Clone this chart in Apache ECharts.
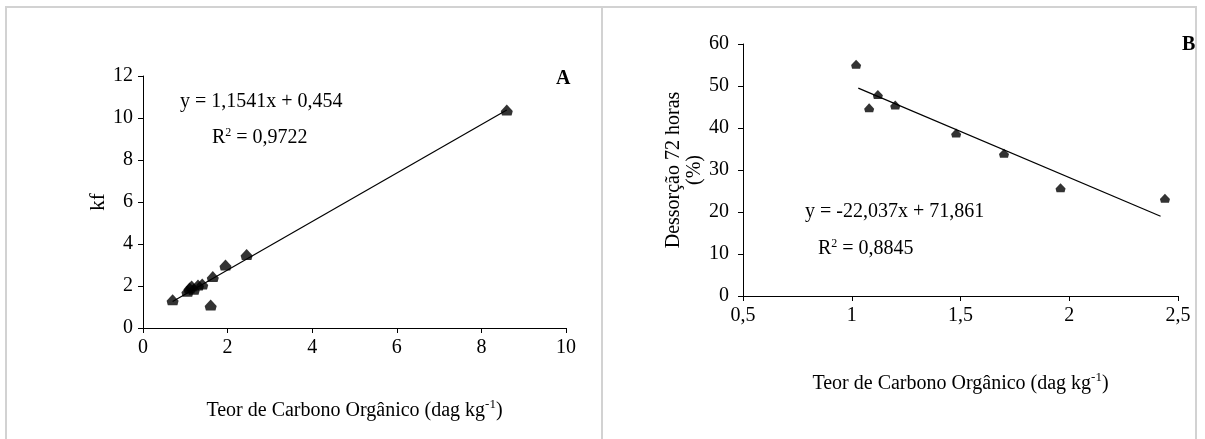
<!DOCTYPE html>
<html><head><meta charset="utf-8">
<script src="https://cdn.jsdelivr.net/npm/echarts@6/dist/echarts.min.js"></script>
<style>html,body{margin:0;padding:0;background:#fff}#c{width:1205px;height:439px}</style>
</head><body><div id="c"></div>
<script>
// Panel A data
const aX = [0.7, 1.05, 1.1, 1.15, 1.2, 1.3, 1.4, 1.6, 1.65, 1.95, 2.45, 8.6];
const aY = [1.35, 1.75, 1.9, 2.0, 1.85, 2.05, 2.1, 1.1, 2.45, 3.0, 3.5, 10.38];
const aTrendX = [0.7, 8.6];
const aTrendY = [1.26, 10.38];
// Panel B data
const bX = [1.02, 1.08, 1.12, 1.2, 1.48, 1.7, 1.96, 2.44];
const bY = [55.2, 44.8, 48, 45.5, 38.8, 34, 25.8, 23.3];
const bTrendX = [1.03, 2.42];
const bTrendY = [49.5, 19];
// Tick labels
const aXTicks = ['0', '2', '4', '6', '8', '10'];
const aYTicks = ['0', '2', '4', '6', '8', '10', '12'];
const bXTicks = ['0,5', '1', '1,5', '2', '2,5'];
const bYTicks = ['0', '10', '20', '30', '40', '50', '60'];
const aEq = 'y = 1,1541x + 0,454';
const aR2 = '0,9722';
const bEq = 'y = -22,037x + 71,861';
const bR2 = '0,8845';

const F = 'Liberation Serif, Times New Roman, serif';
const FS = 20;
const marker = 'path://M5,0 L10,6 L9,10 L1,10 L0,6 Z';
const pair = (xs, ys) => xs.map((x, i) => [x, ys[i]]);
const richName = {t: {fontFamily: F, fontSize: FS, color: '#000'}, s: {fontFamily: F, fontSize: 13, color: '#000', verticalAlign: 'top', padding: [0, 0, 12, 0]}};
const axisCommon = {
  axisLine: {show: true, lineStyle: {color: '#000', width: 1}},
  axisTick: {show: true, inside: false, length: 5, lineStyle: {color: '#000'}},
  splitLine: {show: false},
  axisLabel: {color: '#000', fontFamily: F, fontSize: FS, margin: 10}
};
const chart = echarts.init(document.getElementById('c'));
chart.setOption({
  backgroundColor: '#fff',
  animation: false,
  grid: [
    {left: 143, top: 76, width: 423, height: 252},
    {left: 743, top: 44, width: 435, height: 252}
  ],
  xAxis: [
    Object.assign({}, axisCommon, {gridIndex: 0, type: 'value', min: 0, max: 10, interval: 2,
      axisLabel: Object.assign({}, axisCommon.axisLabel, {formatter: (v) => aXTicks[Math.round(v / 2)]}),
      name: '{t|Teor de Carbono Orgânico (dag kg}{s|-1}{t|)}', nameLocation: 'middle', nameGap: 70,
      nameTextStyle: {rich: richName}
    }),
    Object.assign({}, axisCommon, {gridIndex: 1, type: 'value', min: 0.5, max: 2.5, interval: 0.5,
      axisLabel: Object.assign({}, axisCommon.axisLabel, {formatter: (v) => bXTicks[Math.round((v - 0.5) / 0.5)]}),
      name: '{t|Teor de Carbono Orgânico (dag kg}{s|-1}{t|)}', nameLocation: 'middle', nameGap: 75,
      nameTextStyle: {rich: richName}
    })
  ],
  yAxis: [
    Object.assign({}, axisCommon, {gridIndex: 0, type: 'value', min: 0, max: 12, interval: 2,
      axisLabel: Object.assign({}, axisCommon.axisLabel, {formatter: (v) => aYTicks[Math.round(v / 2)]}),
      name: 'kf', nameLocation: 'middle', nameGap: 34, nameRotate: 90,
      nameTextStyle: {fontFamily: F, fontSize: 21, color: '#000'}
    }),
    Object.assign({}, axisCommon, {gridIndex: 1, type: 'value', min: 0, max: 60, interval: 10,
      axisLabel: Object.assign({}, axisCommon.axisLabel, {margin: 14, formatter: (v) => bYTicks[Math.round(v / 10)]}),
      name: 'Dessorção 72 horas\n(%)', nameLocation: 'middle', nameGap: 30, nameRotate: 90,
      nameTextStyle: {fontFamily: F, fontSize: FS, color: '#000', lineHeight: 21}
    })
  ],
  series: [
    {type: 'line', xAxisIndex: 0, yAxisIndex: 0, data: pair(aTrendX, aTrendY), symbol: 'none',
      lineStyle: {color: '#000', width: 1.2}, z: 2},
    {type: 'scatter', xAxisIndex: 0, yAxisIndex: 0, data: pair(aX, aY), symbol: marker, symbolSize: [12, 11],
      itemStyle: {color: '#000'}, z: 3},
    {type: 'line', xAxisIndex: 1, yAxisIndex: 1, data: pair(bTrendX, bTrendY), symbol: 'none',
      lineStyle: {color: '#000', width: 1.2}, z: 2},
    {type: 'scatter', xAxisIndex: 1, yAxisIndex: 1, data: pair(bX, bY), symbol: marker, symbolSize: [10, 9],
      itemStyle: {color: '#000'}, z: 3}
  ],
  graphic: [
    {type: 'rect', shape: {x: 6, y: 7, width: 1190, height: 440}, style: {fill: 'none', stroke: '#d2d2d2', lineWidth: 2}, silent: true},
    {type: 'line', shape: {x1: 602, y1: 7, x2: 602, y2: 439}, style: {stroke: '#d2d2d2', lineWidth: 2}, silent: true},
    {type: 'text', left: 180, top: 92, style: {text: aEq, font: FS + 'px ' + F, fill: '#000'}},
    {type: 'text', left: 212, top: 127, style: {text: '{t|R}{s|2}{t| = ' + aR2 + '}', rich: {t: {font: FS + 'px ' + F, fill: '#000'}, s: {font: '12px ' + F, fill: '#000', verticalAlign: 'top', padding: [0, 0, 10, 0]}}}},
    {type: 'text', left: 805, top: 202, style: {text: bEq, font: FS + 'px ' + F, fill: '#000'}},
    {type: 'text', left: 818, top: 238, style: {text: '{t|R}{s|2}{t| = ' + bR2 + '}', rich: {t: {font: FS + 'px ' + F, fill: '#000'}, s: {font: '12px ' + F, fill: '#000', verticalAlign: 'top', padding: [0, 0, 10, 0]}}}},
    {type: 'text', left: 556, top: 69, style: {text: 'A', font: 'bold 20px ' + F, fill: '#000'}},
    {type: 'text', left: 1182, top: 35, style: {text: 'B', font: 'bold 20px ' + F, fill: '#000'}}
  ]
});
</script></body></html>
